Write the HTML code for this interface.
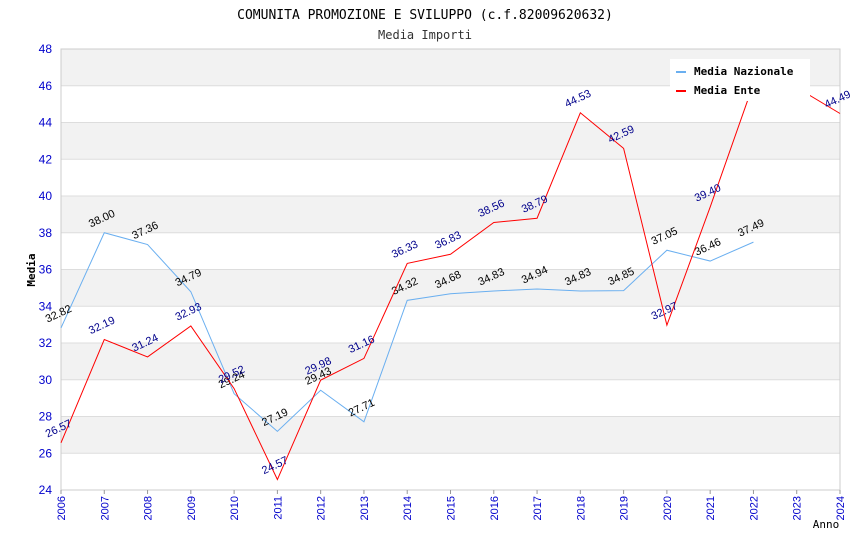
<!DOCTYPE html>
<html><head><meta charset="utf-8"><style>
body{margin:0;background:#fff;}
svg{display:block;font-family:"Liberation Sans",sans-serif;}
.mono{font-family:"DejaVu Sans Mono","Liberation Mono",monospace;}
</style></head><body>
<svg id="chart" width="850" height="550">
<text class="mono" x="425" y="19" text-anchor="middle" font-size="13">COMUNITA PROMOZIONE E SVILUPPO (c.f.82009620632)</text>
<text class="mono" x="425" y="39" text-anchor="middle" font-size="12" fill="#333">Media Importi</text>
<g id="grid"></g>
<g id="axes"></g>
<g id="series"></g>
<text class="mono" x="35" y="270" text-anchor="middle" font-size="11" font-weight="bold" transform="rotate(-90 35 270)">Media</text>
<text class="mono" x="826" y="528" text-anchor="middle" font-size="11">Anno</text>
<g id="legend">
<rect x="670" y="59" width="140" height="42" fill="#fff"/>
<line x1="676" y1="72" x2="686" y2="72" stroke="#6aaff0" stroke-width="2"/>
<text class="mono" x="694" y="75" font-size="11" font-weight="bold">Media Nazionale</text>
<line x1="676" y1="91" x2="686" y2="91" stroke="red" stroke-width="2"/>
<text class="mono" x="694" y="94" font-size="11" font-weight="bold">Media Ente</text>
</g>
</svg>
<script>
const years=[2006,2007,2008,2009,2010,2011,2012,2013,2014,2015,2016,2017,2018,2019,2020,2021,2022,2023,2024];
const yTicks=[24,26,28,30,32,34,36,38,40,42,44,46,48];
const nazionale=[32.82,38.00,37.36,34.79,29.24,27.19,29.43,27.71,34.32,34.68,34.83,34.94,34.83,34.85,37.05,36.46,37.49];
const ente=[26.57,32.19,31.24,32.93,29.52,24.57,29.98,31.16,36.33,36.83,38.56,38.79,44.53,42.59,32.97,39.40,46.10,45.90,44.49];
const X0=61,X1=840,Y0=490,Y1=49,ymin=24,ymax=48;
const xs=i=>X0+(X1-X0)*i/(years.length-1);
const ys=v=>Y0-(v-ymin)/(ymax-ymin)*(Y0-Y1);
const NS="http://www.w3.org/2000/svg";
function mk(t,a,p){const e=document.createElementNS(NS,t);for(const k in a)e.setAttribute(k,a[k]);p.appendChild(e);return e;}
const grid=document.getElementById('grid'),axes=document.getElementById('axes'),ser=document.getElementById('series');
for(let i=0;i<yTicks.length-1;i++){
 if(i%2==1){const r=mk('rect',{x:X0,y:ys(yTicks[i+1]),width:X1-X0,height:ys(yTicks[i])-ys(yTicks[i+1]),fill:'#f2f2f2'},grid);
 
 }
}
yTicks.forEach(t=>{
 const l=mk('line',{x1:X0,x2:X1,y1:ys(t),y2:ys(t),stroke:'#ddd'},grid);
 
 
 const tx=mk('text',{x:52,y:ys(t)+4,'text-anchor':'end','font-size':12,fill:'#00c'},axes);
 tx.textContent=t;
 
 
});
mk('rect',{x:X0,y:Y1,width:X1-X0,height:Y0-Y1,fill:'none',stroke:'#ccc'},axes);
years.forEach((y,i)=>{
 const l=mk('line',{x1:xs(i),x2:xs(i),y1:Y0,y2:Y0+4,stroke:'#999'},axes);
 
 
 const tx=mk('text',{x:xs(i)+4,y:Y0+6,'text-anchor':'end','font-size':11,fill:'#00c',transform:`rotate(-90 ${xs(i)+4} ${Y0+6})`},axes);
 tx.textContent=y;
 
 
});
function draw(data,color,lblColor,name){
 const pts=data.map((v,i)=>xs(i)+','+ys(v)).join(' ');
 const pl=mk('polyline',{points:pts,fill:'none',stroke:color,'stroke-width':1},ser);
 
 
 data.forEach((v,i)=>{
  const x=xs(i)-1,y=ys(v)-11;
  const t=mk('text',{x:x,y:y,'text-anchor':'middle','font-size':11,fill:lblColor,transform:`rotate(-25 ${x} ${y})`},ser);
  t.textContent=v.toFixed(2);
  
  
 });
}
draw(nazionale,'#6aaff0','#000','nazionale');
draw(ente,'red','#00008b','ente');
ser.parentNode.appendChild(document.getElementById('legend'));
</script>
</body></html>
